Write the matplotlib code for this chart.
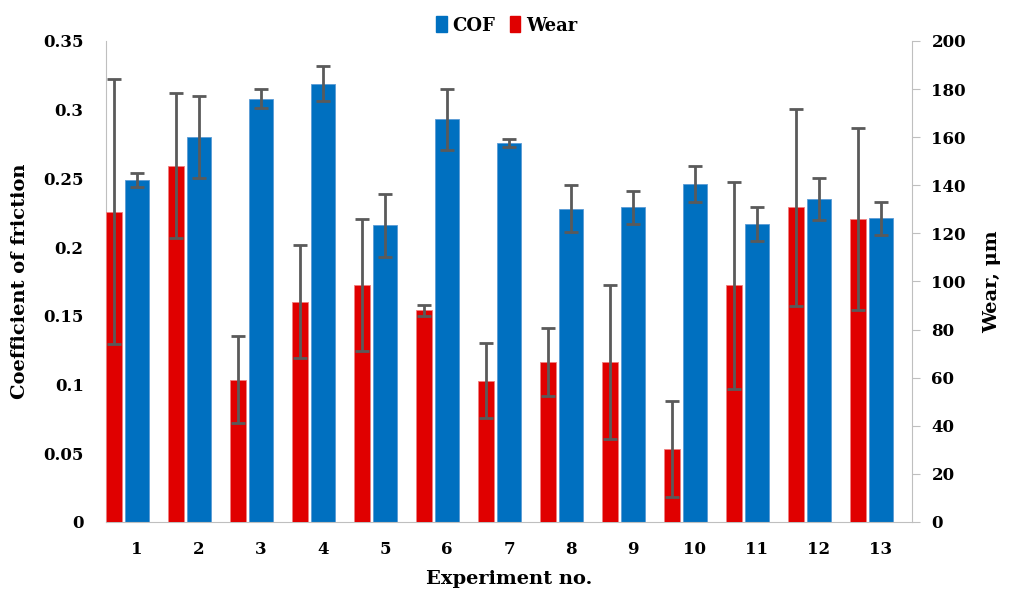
import matplotlib.pyplot as plt
import matplotlib.ticker as mticker
import numpy as np
from matplotlib.patches import Patch

plt.rcParams["font.family"] = ["DejaVu Serif"]
plt.rcParams["font.weight"] = "bold"

# data
experiments = [str(i) for i in range(1, 14)]
cof = [0.249, 0.280, 0.308, 0.319, 0.216, 0.293, 0.276, 0.228, 0.229, 0.246, 0.217, 0.235, 0.221]
cof_err = [0.005, 0.030, 0.007, 0.013, 0.023, 0.022, 0.003, 0.017, 0.012, 0.013, 0.0125, 0.015, 0.012]
wear = [129.0, 148.2, 59.2, 91.5, 98.5, 88.0, 58.8, 66.5, 66.5, 30.5, 98.5, 130.8, 126.0]
wear_err = [55.0, 30.0, 18.0, 23.5, 27.5, 2.4, 15.5, 14.0, 32.0, 20.0, 43.0, 41.0, 38.0]

blue = "#0070C0"
red = "#E00000"
err_col = "#5a5a5a"

fig = plt.figure(figsize=(10.13, 5.95), dpi=100)
ax = fig.add_axes([0.1046, 0.1227, 0.7957, 0.8084])
ax2 = ax.twinx()

x = np.arange(1, len(experiments) + 1)

ax.bar(x, cof, width=0.39, color=blue, edgecolor="#5b9bd5", linewidth=0.6,
       yerr=cof_err, error_kw=dict(ecolor=err_col, elinewidth=2, capsize=5, capthick=2),
       zorder=2)
ax2.bar(x - 0.37, wear, width=0.27, color=red, edgecolor="#f08080", linewidth=0.6,
        yerr=wear_err, error_kw=dict(ecolor=err_col, elinewidth=2, capsize=5, capthick=2),
        zorder=2)

ax.set_xlim(0.5, 13.5)
ax.set_ylim(0, 0.35)
ax2.set_ylim(0, 200)
ax.set_yticks(np.arange(0, 0.351, 0.05))
ax.yaxis.set_major_formatter(mticker.FuncFormatter(lambda v, p: f"{v:.2f}".rstrip("0").rstrip(".")))
ax2.set_yticks(np.arange(0, 201, 20))
ax.set_xticks(x)
ax.set_xticklabels(experiments)

for a in (ax, ax2):
    a.spines["top"].set_visible(False)
    a.set_facecolor("none")
ax.spines["left"].set_color("#bfbfbf")
ax.spines["bottom"].set_color("#bfbfbf")
ax.spines["right"].set_visible(False)
ax2.spines["left"].set_visible(False)
ax2.spines["bottom"].set_visible(False)
ax2.spines["right"].set_color("#bfbfbf")

ax.tick_params(axis="y", length=0, pad=16, labelsize=12)
ax.tick_params(axis="x", length=0, pad=14, labelsize=12)
ax2.tick_params(axis="y", length=6, color="#bfbfbf", pad=8, labelsize=12)

ax.set_ylabel("Coefficient of friction", fontsize=14, fontweight="bold", labelpad=10)
ax2.set_ylabel("Wear, \u03bcm", fontsize=14, fontweight="bold", labelpad=12)
ax.set_xlabel("Experiment no.", fontsize=14, fontweight="bold", labelpad=8)

handles = [Patch(color=blue, label="COF"), Patch(color=red, label="Wear")]
fig.legend(handles=handles, loc="upper center", bbox_to_anchor=(0.5, 1.0), ncol=2,
           frameon=False, fontsize=13, handlelength=0.6, handleheight=1.0,
           handletextpad=0.3, columnspacing=0.8)

fig.savefig("out.png", dpi=100)
